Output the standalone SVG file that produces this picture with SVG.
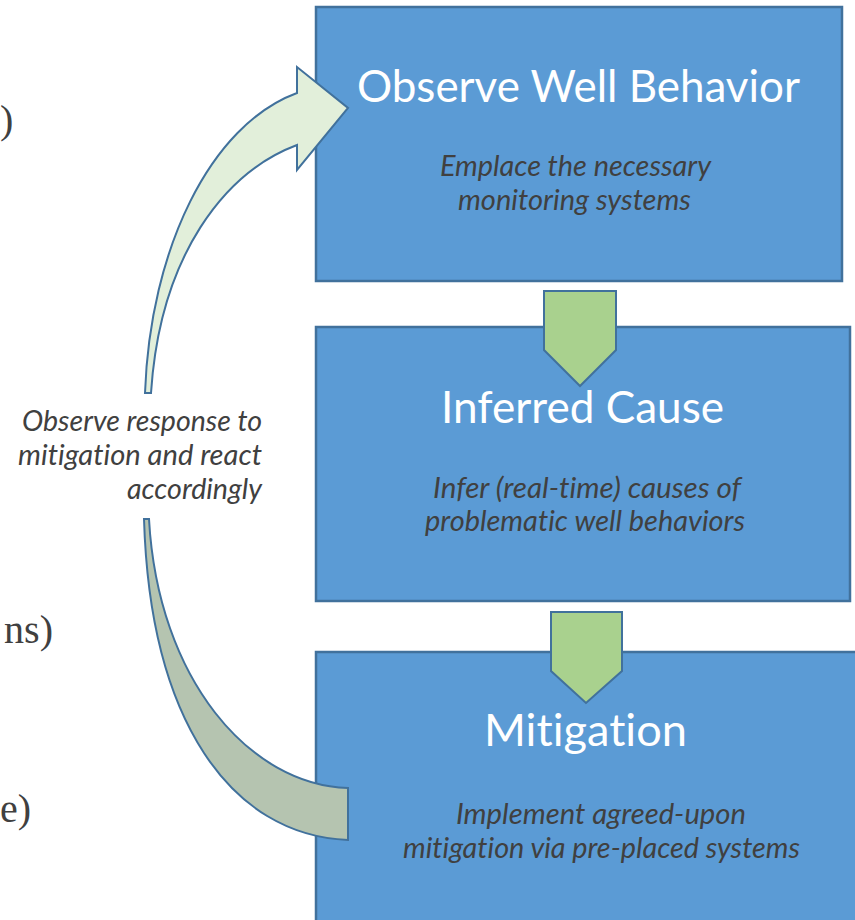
<svg xmlns="http://www.w3.org/2000/svg" width="855" height="920" viewBox="0 0 855 920">
<style>
.box{fill:#5b9bd5;stroke:#41719c;stroke-width:2.5}
.chev{fill:#a9d18e;stroke:#41719c;stroke-width:2}
text{font-variant-ligatures:none}
.title{font-family:Lato,"Open Sans","Liberation Sans",sans-serif;font-size:44px;fill:#ffffff;text-anchor:middle}
.sub{font-family:Lato,"Open Sans","Liberation Sans",sans-serif;font-size:28px;font-style:italic;fill:#404040;text-anchor:middle}
.side{font-family:Lato,"Open Sans","Liberation Sans",sans-serif;font-size:28px;font-style:italic;fill:#404040;text-anchor:end}
.cut{font-family:"Liberation Serif",serif;font-size:40px;fill:#404040;text-anchor:end}
.arc{stroke:#41719c;stroke-width:2;stroke-linejoin:miter}
</style>
<rect width="855" height="920" fill="#ffffff"/>
<g id="cut-text">
<text class="cut" x="0" y="133" style="text-anchor:start">)</text>
<text class="cut" x="53" y="643">ns)</text>
<text class="cut" x="31" y="822">e)</text>
</g>
<g id="node-observe">
<rect class="box" x="316" y="7" width="526" height="274"/>
<text class="title" x="578.5" y="102" textLength="443" lengthAdjust="spacingAndGlyphs">Observe Well Behavior</text>
<text class="sub" x="575.5" y="176" textLength="271" lengthAdjust="spacingAndGlyphs">Emplace the necessary</text>
<text class="sub" x="574.5" y="210" textLength="233" lengthAdjust="spacingAndGlyphs">monitoring systems</text>
</g>
<g id="node-inferred">
<rect class="box" x="316" y="327" width="534" height="274"/>
<text class="title" x="582.5" y="423" textLength="283" lengthAdjust="spacingAndGlyphs">Inferred Cause</text>
<text class="sub" x="587" y="498" textLength="308" lengthAdjust="spacingAndGlyphs">Infer (real-time) causes of</text>
<text class="sub" x="585" y="531" textLength="320" lengthAdjust="spacingAndGlyphs">problematic well behaviors</text>
</g>
<g id="node-mitigation">
<rect class="box" x="316" y="652" width="545" height="280"/>
<text class="title" x="585.5" y="746" textLength="203" lengthAdjust="spacingAndGlyphs">Mitigation</text>
<text class="sub" x="601" y="824" textLength="290" lengthAdjust="spacingAndGlyphs">Implement agreed-upon</text>
<text class="sub" x="601.5" y="858" textLength="397" lengthAdjust="spacingAndGlyphs">mitigation via pre-placed systems</text>
</g>
<g id="connectors">
<polygon class="chev" points="544,291 616,291 616,350 580,386 544,350"/>
<polygon class="chev" points="551,612 622,612 622,671 586,703 551,671"/>
<path class="arc" fill="#e2efda" d="M145,393 C150,250 210,125 297,93 L297,67 L348,108 L297,170 L297,145 C225,172 160,255 151,393 Z"/>
<path class="arc" fill="#b5c4b0" d="M149,519 C158,680 250,785 348,788 L348,840 C230,835 150,720 144,519 Z"/>
<text class="side" x="262" y="431" textLength="240" lengthAdjust="spacingAndGlyphs">Observe response to</text>
<text class="side" x="262" y="465" textLength="244" lengthAdjust="spacingAndGlyphs">mitigation and react</text>
<text class="side" x="262" y="499" textLength="135" lengthAdjust="spacingAndGlyphs">accordingly</text>
</g>
</svg>
